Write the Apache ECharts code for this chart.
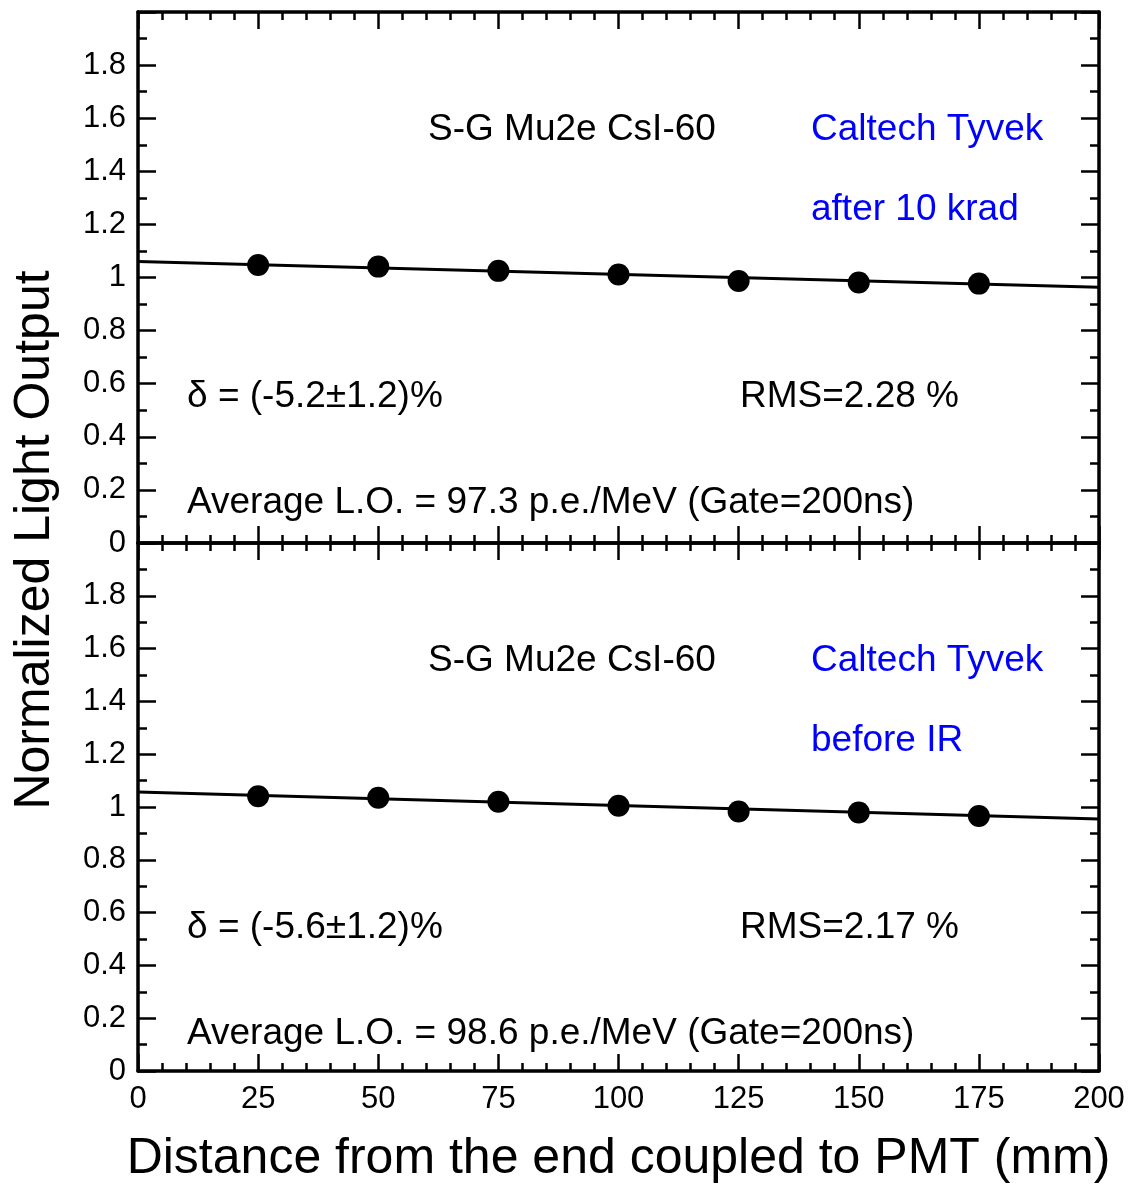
<!DOCTYPE html>
<html>
<head>
<meta charset="utf-8">
<title>Normalized Light Output</title>
<script src="https://cdn.jsdelivr.net/npm/echarts@6/dist/echarts.min.js"></script>
<style>
  html, body { margin: 0; padding: 0; background: #fff; }
  #chart { width: 1130px; height: 1185px; }
</style>
</head>
<body>
<div id="chart"></div>
<script>
// measured points, distance in mm
const distances = [25, 50, 75, 100, 125, 150, 175];
const afterIrr = [1.047, 1.041, 1.025, 1.011, 0.987, 0.981, 0.977]; // top panel, after 10 krad
const beforeIr = [1.041, 1.035, 1.020, 1.005, 0.983, 0.979, 0.966]; // bottom panel, before IR
// linear fits (end points)
const fitX = [0, 200];
const fitAfter = [1.060, 0.963];
const fitBefore = [1.057, 0.955];
const yTicks = [0, 0.2, 0.4, 0.6, 0.8, 1, 1.2, 1.4, 1.6, 1.8];

const FONT = '"Liberation Sans", Arial, sans-serif';
const black = "#000";

const pairs = (xs, ys) => xs.map((x, i) => [x, ys[i]]);

// grid boxes: top panel, bottom panel
const grids = [
  { left: 138, right: 31, top: 12, height: 531 },
  { left: 138, right: 31, top: 543, height: 530 },
];

const tickStyle = { color: black, width: 2.5 };

const makeX = (gridIndex, position, withLabels) => ({
  type: "value",
  gridIndex: gridIndex,
  position: position,
  min: 0,
  max: 200,
  interval: 25,
  axisLine: { show: true, onZero: false, lineStyle: { color: black, width: 3.5 } },
  axisTick: { show: true, inside: true, length: 17, lineStyle: tickStyle },
  minorTick: { show: true, splitNumber: 5, length: 8, lineStyle: tickStyle },
  axisLabel: {
    show: withLabels,
    margin: 13,
    color: black,
    fontSize: 31,
    fontFamily: FONT,
  },
  splitLine: { show: false },
  name: withLabels ? "Distance from the end coupled to PMT (mm)" : "",
  nameLocation: "middle",
  nameGap: 88,
  nameTextStyle: { color: black, fontSize: 50, fontFamily: FONT, verticalAlign: "middle" },
});

const makeY = (gridIndex, position, withLabels) => ({
  type: "value",
  gridIndex: gridIndex,
  position: position,
  min: 0,
  max: 2,
  interval: 0.2,
  axisLine: { show: true, onZero: false, lineStyle: { color: black, width: 3.5 } },
  axisTick: { show: true, inside: true, length: 18, lineStyle: tickStyle },
  minorTick: { show: true, splitNumber: 2, length: 9, lineStyle: tickStyle },
  axisLabel: {
    show: withLabels,
    margin: 12,
    color: black,
    fontSize: 31,
    fontFamily: FONT,
    formatter: (v) => (yTicks.indexOf(Math.round(v * 10) / 10) >= 0 ? String(Math.round(v * 10) / 10) : ""),
  },
  splitLine: { show: false },
});

const pointSeries = (idx, ys) => ({
  type: "scatter",
  xAxisIndex: idx * 2,
  yAxisIndex: idx * 2,
  data: pairs(distances, ys),
  symbol: "circle",
  symbolSize: 22,
  itemStyle: { color: black, opacity: 1 },
  z: 5,
});

const fitSeries = (idx, ys) => ({
  type: "line",
  xAxisIndex: idx * 2,
  yAxisIndex: idx * 2,
  data: pairs(fitX, ys),
  showSymbol: false,
  lineStyle: { color: black, width: 3 },
  z: 4,
});

// annotation text, panel offset added for the bottom one
const txt = (text, x, y, color, size) => ({
  type: "text",
  x: x,
  y: y,
  style: {
    text: text,
    fill: color || black,
    font: (size || 37) + "px " + FONT,
    align: "left",
    verticalAlign: "middle",
  },
});

const panelNotes = (dy, label2, delta, rms, avg) => [
  txt("S-G Mu2e CsI-60", 428, 130 + dy),
  txt("Caltech Tyvek", 811, 130 + dy, "#0000ff"),
  txt(label2, 811, 210 + dy, "#0000ff"),
  txt(delta, 187, 397 + dy),
  txt(rms, 740, 397 + dy),
  txt(avg, 187, 503 + dy),
];

const option = {
  animation: false,
  backgroundColor: "#fff",
  grid: grids,
  xAxis: [
    makeX(0, "bottom", false),
    makeX(0, "top", false),
    makeX(1, "bottom", true),
    makeX(1, "top", false),
  ],
  yAxis: [
    makeY(0, "left", true),
    makeY(0, "right", false),
    makeY(1, "left", true),
    makeY(1, "right", false),
  ],
  series: [
    fitSeries(0, fitAfter),
    pointSeries(0, afterIrr),
    fitSeries(1, fitBefore),
    pointSeries(1, beforeIr),
  ],
  graphic: [
    {
      type: "text",
      x: 35,
      y: 540,
      rotation: Math.PI / 2,
      style: {
        text: "Normalized Light Output",
        fill: black,
        font: "50px " + FONT,
        align: "center",
        verticalAlign: "middle",
      },
    },
    ...panelNotes(0, "after 10 krad", "δ = (-5.2±1.2)%", "RMS=2.28 %",
      "Average L.O. = 97.3 p.e./MeV (Gate=200ns)"),
    ...panelNotes(531, "before IR", "δ = (-5.6±1.2)%", "RMS=2.17 %",
      "Average L.O. = 98.6 p.e./MeV (Gate=200ns)"),
  ],
};

const chart = echarts.init(document.getElementById("chart"));
chart.setOption(option);
</script>
</body>
</html>
